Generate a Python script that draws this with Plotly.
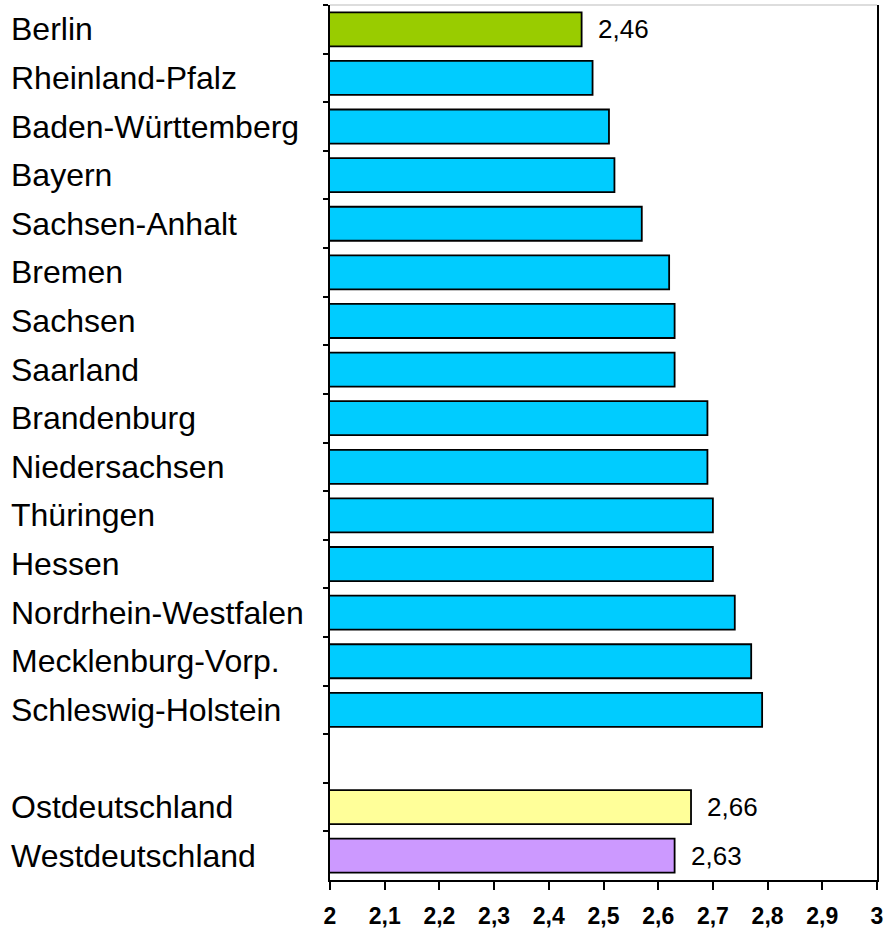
import plotly.graph_objects as go

# ---- data ----
states = ["Berlin", "Rheinland-Pfalz", "Baden-Württemberg", "Bayern", "Sachsen-Anhalt",
          "Bremen", "Sachsen", "Saarland", "Brandenburg", "Niedersachsen", "Thüringen",
          "Hessen", "Nordrhein-Westfalen", "Mecklenburg-Vorp.", "Schleswig-Holstein"]
state_values = [2.46, 2.48, 2.51, 2.52, 2.57, 2.62, 2.63, 2.63, 2.69, 2.69, 2.70,
                2.70, 2.74, 2.77, 2.79]
regions = ["Ostdeutschland", "Westdeutschland"]
region_values = [2.66, 2.63]
labelled = ["Berlin", "Ostdeutschland", "Westdeutschland"]
x_ticks = [2.0, 2.1, 2.2, 2.3, 2.4, 2.5, 2.6, 2.7, 2.8, 2.9, 3.0]
x_tick_labels = ["2", "2,1", "2,2", "2,3", "2,4", "2,5", "2,6", "2,7", "2,8", "2,9", "3"]
gap_slot = " "

# ---- styling ----
FONT = "Liberation Sans, Arial, sans-serif"
colors_state = ["#99CC00"] + ["#00CCFF"] * (len(states) - 1)
colors_region = ["#FFFF99", "#CC99FF"]

categories = states + [gap_slot] + regions
all_cats = states + regions
all_vals = state_values + region_values
all_colors = colors_state + colors_region

fig = go.Figure()
fig.add_trace(go.Bar(
    x=all_vals, y=all_cats, orientation="h",
    base=0,
    marker=dict(color=all_colors, line=dict(color="black", width=1.8)),
    width=0.7,
    hoverinfo="x+y",
))

annotations = []
for c in all_cats:
    annotations.append(dict(
        x=0, xref="paper", xshift=-321, xanchor="left",
        y=c, yref="y", yanchor="middle",
        text=c, showarrow=False,
        font=dict(family=FONT, size=32, color="black"),
    ))
for c, v in zip(all_cats, all_vals):
    if c in labelled:
        annotations.append(dict(
            x=v, xref="x", xanchor="left", xshift=14,
            y=c, yref="y", yanchor="middle",
            text=f"{v:.2f}".replace(".", ","), showarrow=False,
            font=dict(family=FONT, size=26, color="black"),
        ))

fig.update_layout(
    width=887, height=929,
    margin=dict(l=330, r=10, t=5, b=49, autoexpand=False),
    paper_bgcolor="white", plot_bgcolor="white",
    showlegend=False,
    bargap=0.3,
    annotations=annotations,
    shapes=[dict(type="line", xref="paper", yref="paper", x0=0, x1=1, y0=1, y1=1,
                 line=dict(color="#BBBBBB", width=1))],
    xaxis=dict(
        range=[2, 3], tickvals=x_ticks, ticktext=x_tick_labels,
        showgrid=False, zeroline=False, automargin=False,
        showline=True, linecolor="black", linewidth=2,
        ticks="outside", ticklen=8, tickwidth=2, tickcolor="black",
        ticklabelstandoff=6,
        tickfont=dict(family=FONT, size=23, color="black", weight="bold"),
        fixedrange=True,
    ),
    yaxis=dict(
        type="category", categoryorder="array", categoryarray=categories,
        range=[len(categories) - 0.5, -0.5], automargin=False,
        tickson="boundaries", ticks="outside", ticklen=5, tickwidth=1.5, tickcolor="black",
        showticklabels=False, showgrid=False, zeroline=False,
        showline=True, linecolor="black", linewidth=2, mirror=True,
        fixedrange=True,
    ),
)

fig.write_html(
    "out.html",
    config={"displayModeBar": False},
    post_script="document.body.style.margin='0';document.body.style.padding='0';",
)
